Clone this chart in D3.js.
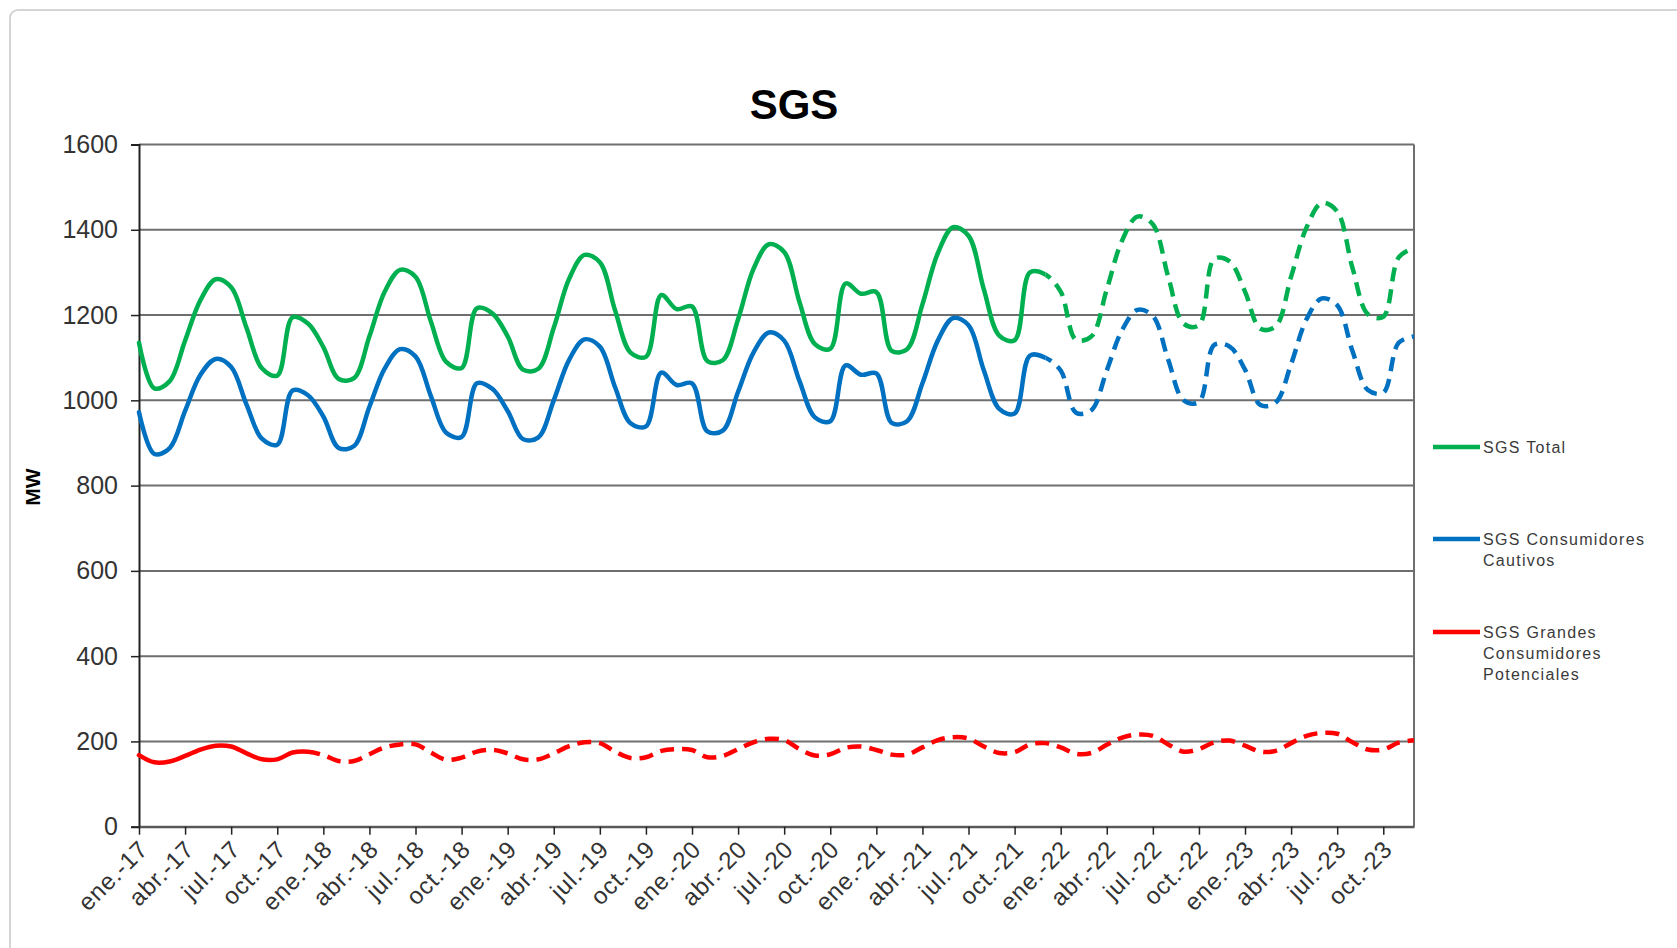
<!DOCTYPE html>
<html><head><meta charset="utf-8">
<script src="https://cdn.jsdelivr.net/npm/d3@7"></script>
<style>
body{margin:0;background:#fff;}
text{font-family:Arial,"Liberation Sans",sans-serif;}
</style>
</head><body>
<svg id="chart" width="1677" height="948"></svg>
<script>
// ---- data ----
const monthNames = ["ene.","feb.","mar.","abr.","may.","jun.","jul.","ago.","sep.","oct.","nov.","dic."];
const years = ["17","18","19","20","21","22","23"];
const categories = [];
years.forEach(y => monthNames.forEach(m => categories.push(m + "-" + y)));

const sgsTotal = [
  1135,1028,1045,1140,1235,1284,1265,1170,1075,1058,1195,1180,
  1125,1050,1052,1150,1255,1306,1290,1185,1090,1076,1216,1204,
  1150,1072,1074,1170,1285,1341,1324,1210,1112,1102,1247,1214,
  1220,1092,1094,1190,1308,1366,1348,1230,1132,1121,1274,1250,
  1254,1116,1120,1225,1345,1406,1386,1260,1152,1141,1300,1295,
  1255,1142,1150,1260,1375,1431,1413,1290,1180,1176,1332,1326,
  1255,1168,1174,1290,1405,1463,1443,1310,1202,1196,1335,1358
];
const sgsCautivos = [
  972,874,888,975,1060,1097,1078,990,910,896,1023,1012,
  962,888,893,985,1075,1120,1103,1010,924,914,1040,1027,
  975,909,913,1000,1095,1143,1126,1030,946,939,1065,1036,
  1040,927,929,1020,1112,1159,1140,1045,960,951,1082,1060,
  1063,947,951,1040,1140,1193,1176,1070,980,969,1105,1100,
  1070,971,977,1070,1165,1212,1198,1095,1000,996,1130,1126,
  1072,989,995,1085,1190,1239,1223,1115,1024,1018,1135,1150
];
const sgsGrandes = [
  168,151,153,166,181,190,188,172,158,158,174,176,
  168,154,154,170,186,193,193,174,157,162,176,180,
  172,158,158,172,189,198,196,176,161,163,178,182,
  180,163,166,182,198,206,203,182,167,170,185,188,
  180,169,169,186,203,210,207,188,173,175,193,196,
  186,171,173,192,209,216,213,193,176,182,198,202,
  190,176,178,196,213,220,218,198,181,181,197,203
];
const yTickValues = [0,200,400,600,800,1000,1200,1400,1600];
const tickLabels = categories.filter((d,i) => i % 3 === 0);
const seriesNames = ["SGS Total","SGS Consumidores Cautivos","SGS Grandes Consumidores Potenciales"];
const solidUntil = ["dic.-21","dic.-21","dic.-17"];

// ---- layout ----
const svg = d3.select("#chart");
const M = {left:139, right:1414, top:144.5, bottom:826.7};
const x = d3.scalePoint().domain(categories).range([M.left, M.right]);
const y = d3.scaleLinear().domain([0,1600]).range([M.bottom, M.top]);

// outer frame
svg.append("rect").attr("x",10).attr("y",10).attr("width",1700).attr("height",960)
  .attr("rx",8).attr("fill","#fff").attr("stroke","#c8c8c8").attr("stroke-width",1.5);

// title
svg.append("text").attr("x",794).attr("y",119).attr("text-anchor","middle")
  .attr("font-size",42).attr("font-weight","bold").attr("fill","#000").text("SGS");

// gridlines
svg.append("g").selectAll("line").data(yTickValues).join("line")
  .attr("x1",M.left).attr("x2",M.right)
  .attr("y1",d=>y(d)).attr("y2",d=>y(d))
  .attr("stroke","#6e6e6e").attr("stroke-width",2);

// right border
svg.append("line").attr("x1",M.right).attr("x2",M.right).attr("y1",M.top).attr("y2",M.bottom)
  .attr("stroke","#6e6e6e").attr("stroke-width",2);

// y axis
const yAxis = svg.append("g").attr("transform",`translate(${M.left},0)`)
  .call(d3.axisLeft(y).tickValues(yTickValues).tickSize(8).tickPadding(13).tickFormat(d3.format("d")));
yAxis.select(".domain").attr("stroke","#222").attr("stroke-width",2);
yAxis.selectAll(".tick line").attr("stroke","#222").attr("stroke-width",1.5);
yAxis.selectAll("text").attr("font-size",25).attr("fill","#333").attr("font-family","Arial,'Liberation Sans',sans-serif");

// x axis
const xAxis = svg.append("g").attr("transform",`translate(0,${M.bottom})`)
  .call(d3.axisBottom(x).tickValues(tickLabels).tickSize(8).tickSizeOuter(0));
xAxis.select(".domain").attr("stroke","#555").attr("stroke-width",2);
xAxis.selectAll(".tick line").attr("stroke","#222").attr("stroke-width",1.5);
xAxis.selectAll("text")
  .attr("font-size",24).attr("fill","#333").attr("letter-spacing","0.8px")
  .attr("font-family","Arial,'Liberation Sans',sans-serif")
  .attr("text-anchor","end").attr("dy",null).attr("y",null)
  .attr("transform","translate(10,24) rotate(-45)");

// y axis title
svg.append("text").attr("transform","translate(40,487) rotate(-90)")
  .attr("text-anchor","middle").attr("font-size",21).attr("font-weight","bold").attr("fill","#000").text("MW");

// lines
const colors = ["#00B050","#0070C0","#FF0000"];
const dataSets = [sgsTotal, sgsCautivos, sgsGrandes];
const line = d3.line().x((d,i)=>x(categories[i])).y(d=>y(d)).curve(d3.curveCatmullRom.alpha(0.5));
const defs = svg.append("defs");
dataSets.forEach((vals,k) => {
  const splitX = x(solidUntil[k]);
  defs.append("clipPath").attr("id","solid"+k).append("rect")
    .attr("x",0).attr("y",0).attr("width",splitX).attr("height",948);
  defs.append("clipPath").attr("id","dash"+k).append("rect")
    .attr("x",splitX).attr("y",0).attr("width",1677-splitX).attr("height",948);
  svg.append("path").datum(vals).attr("d",line).attr("fill","none")
    .attr("stroke",colors[k]).attr("stroke-width",4.5).attr("stroke-linecap","round")
    .attr("clip-path",`url(#solid${k})`);
  svg.append("path").datum(vals).attr("d",line).attr("fill","none")
    .attr("stroke",colors[k]).attr("stroke-width",4.5)
    .attr("stroke-dasharray","14,8")
    .attr("clip-path",`url(#dash${k})`);
});

// legend
const legendItems = [
  {lines:["SGS Total"], y:447},
  {lines:["SGS Consumidores","Cautivos"], y:539},
  {lines:["SGS Grandes","Consumidores","Potenciales"], y:632}
];
legendItems.forEach((it,k) => {
  const g = svg.append("g");
  g.append("line").attr("x1",1433).attr("x2",1480).attr("y1",it.y).attr("y2",it.y)
    .attr("stroke",colors[k]).attr("stroke-width",4.5);
  it.lines.forEach((t,j) => {
    g.append("text").attr("x",1483).attr("y",it.y + 6 + j*21)
      .attr("font-size",16).attr("letter-spacing","1.3px").attr("fill","#3a3a3a").text(t);
  });
});
</script>
</body></html>
